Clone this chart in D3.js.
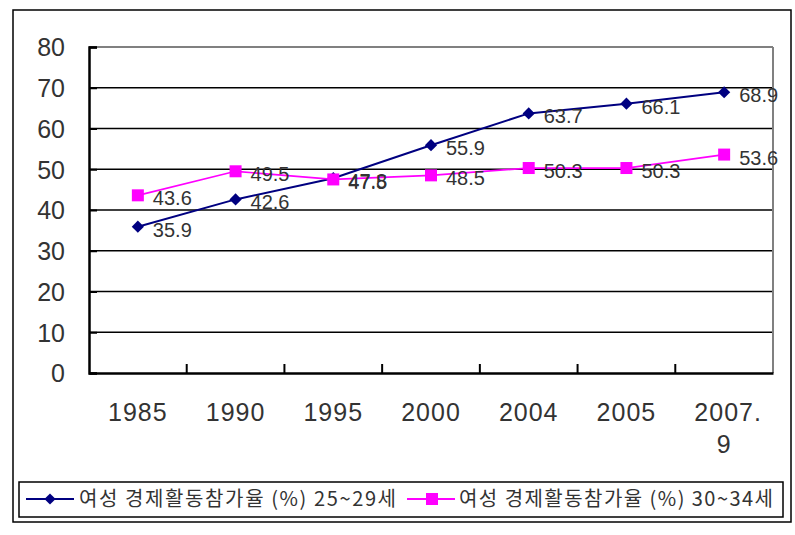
<!DOCTYPE html>
<html><head><meta charset="utf-8">
<script src="https://cdn.jsdelivr.net/npm/d3@7"></script>
<style>body{margin:0;background:#fff}svg{display:block}</style>
</head><body>
<script>
const categories = ["1985","1990","1995","2000","2004","2005","2007.\n9"];
const series1Name = "여성 경제활동참가율 (%) 25~29세";
const series1 = [35.9, 42.6, 47.8, 55.9, 63.7, 66.1, 68.9];
const series2Name = "여성 경제활동참가율 (%) 30~34세";
const series2 = [43.6, 49.5, 47.5, 48.5, 50.3, 50.3, 53.6];
const yTicks = [0,10,20,30,40,50,60,70,80];

const W = 795, H = 535;
const svg = d3.select("body").append("svg").attr("width", W).attr("height", H);
const numFont = "'Liberation Sans', Arial, sans-serif";
const krFont = "'Noto Sans CJK KR', sans-serif";

// outer frame
svg.append("rect").attr("x",13).attr("y",10).attr("width",778).attr("height",512)
  .attr("fill","none").attr("stroke","#000").attr("stroke-width",1.5);

const L = 89, R = 773, T = 47, B = 373;
const x = d3.scaleBand().domain(categories).range([L, R]).padding(0);
const y = d3.scaleLinear().domain([0, 80]).range([B, T]);

// gridlines
const g = svg.append("g");
yTicks.filter(v => v > 0).forEach(v => {
  g.append("line").attr("x1", L).attr("x2", R).attr("y1", y(v)).attr("y2", y(v))
    .attr("stroke", v === 80 ? "#808080" : "#000").attr("stroke-width", v === 80 ? 2 : 1.5);
});
// right border
g.append("line").attr("x1", R).attr("x2", R).attr("y1", T).attr("y2", B)
  .attr("stroke", "#808080").attr("stroke-width", 2);

// y axis
const yAxis = d3.axisLeft(y).tickValues(yTicks).tickSize(-8).tickPadding(24);
const ya = svg.append("g").attr("transform", `translate(${L},0)`).call(yAxis);
ya.select(".domain").attr("stroke","#000").attr("stroke-width",2.5);
ya.selectAll(".tick line").attr("stroke","#000").attr("stroke-width",2);
ya.selectAll(".tick text").attr("font-family", numFont).attr("font-size", 25)
  .attr("fill","#333").attr("dy","0.35em");

// x axis
const xAxis = d3.axisBottom(x).tickSize(0).tickFormat("");
const xa = svg.append("g").attr("transform", `translate(0,${B})`).call(xAxis);
xa.select(".domain").attr("stroke","#000").attr("stroke-width",2.5);
categories.slice(1).forEach(c => {
  svg.append("line").attr("x1", x(c)).attr("x2", x(c)).attr("y1", B).attr("y2", B - 9)
    .attr("stroke","#000").attr("stroke-width",2);
});
categories.forEach(c => {
  const cx = x(c) + x.bandwidth()/2;
  const lines = c.split("\n");
  const t = svg.append("text").attr("x", cx).attr("y", 421).attr("text-anchor","middle")
    .attr("font-family", numFont).attr("font-size", 25).attr("fill","#333")
    .attr("letter-spacing", 1);
  lines.forEach((ln, i) => {
    t.append("tspan").attr("x", cx + (i === 0 && lines.length > 1 ? 4 : 0)).attr("dy", i === 0 ? 0 : 32).text(ln);
  });
});

const px = c => x(c) + x.bandwidth()/2;
const line = d3.line().x((d,i) => px(categories[i])).y(d => y(d));

// series 1 navy
svg.append("path").datum(series1).attr("d", line).attr("fill","none")
  .attr("stroke","#000080").attr("stroke-width",2);
svg.selectAll(".m1").data(series1).enter().append("path")
  .attr("d", d3.symbol().type(d3.symbolDiamond2).size(95))
  .attr("transform", (d,i) => `translate(${px(categories[i])},${y(d)})`)
  .attr("fill","#000080");

// series 2 magenta
svg.append("path").datum(series2).attr("d", line).attr("fill","none")
  .attr("stroke","#FF00FF").attr("stroke-width",1.7);
svg.selectAll(".m2").data(series2).enter().append("rect")
  .attr("x", (d,i) => px(categories[i]) - 6).attr("y", d => y(d) - 6)
  .attr("width", 12).attr("height", 12).attr("fill","#FF00FF");

// data labels
[series1, series2].forEach(s => {
  s.forEach((d,i) => {
    svg.append("text").attr("x", px(categories[i]) + 15).attr("y", y(d) + 10)
      .attr("font-family", numFont).attr("font-size", 20).attr("fill","#333")
      .text(d.toFixed(1));
  });
});

// legend
svg.append("rect").attr("x",19).attr("y",482).attr("width",764).attr("height",35)
  .attr("fill","none").attr("stroke","#000").attr("stroke-width",1.5);
const ly = 499;
svg.append("line").attr("x1",26).attr("x2",74).attr("y1",ly).attr("y2",ly)
  .attr("stroke","#000080").attr("stroke-width",2);
svg.append("path").attr("d", d3.symbol().type(d3.symbolDiamond2).size(80))
  .attr("transform",`translate(50,${ly})`).attr("fill","#000080");
svg.append("text").attr("x",79).attr("y",ly+7).attr("font-family",krFont)
  .attr("font-size",20).attr("fill","#333").attr("textLength",317)
  .attr("lengthAdjust","spacing").text(series1Name);
svg.append("line").attr("x1",407).attr("x2",455).attr("y1",ly).attr("y2",ly)
  .attr("stroke","#FF00FF").attr("stroke-width",2);
svg.append("rect").attr("x",426).attr("y",ly-6).attr("width",12).attr("height",12)
  .attr("fill","#FF00FF");
svg.append("text").attr("x",459).attr("y",ly+7).attr("font-family",krFont)
  .attr("font-size",20).attr("fill","#333").attr("textLength",314)
  .attr("lengthAdjust","spacing").text(series2Name);
</script>
</body></html>
